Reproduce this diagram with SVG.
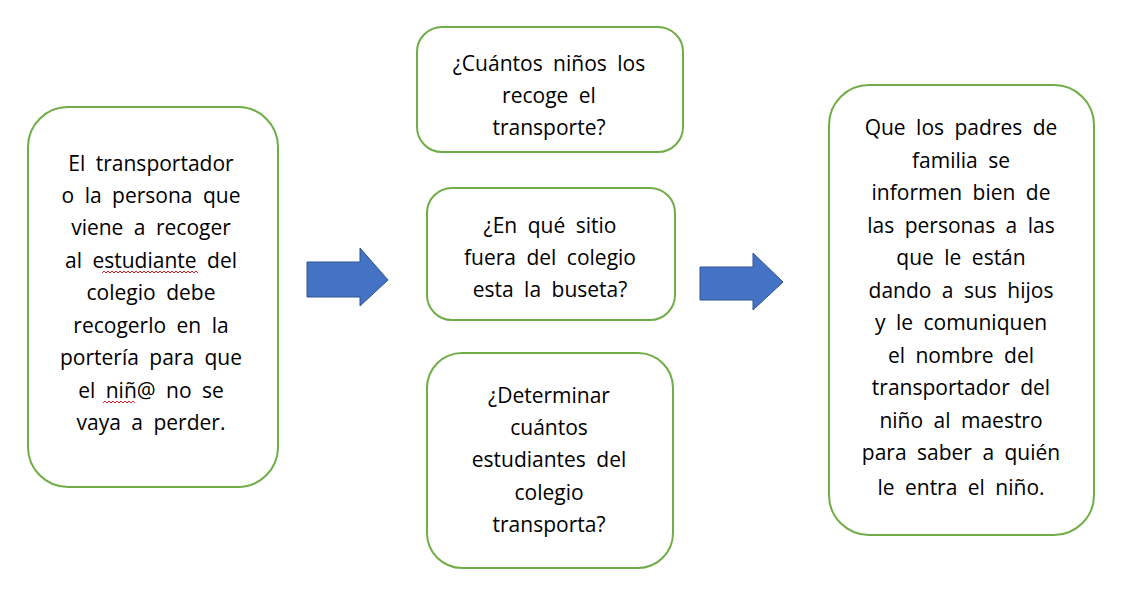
<svg xmlns="http://www.w3.org/2000/svg" width="1122" height="602" viewBox="0 0 1122 602">
<style>
.box{fill:#FFFFFF;stroke:#70AD47;stroke-width:2}
.t{font-family:"Open Sans","Liberation Sans",sans-serif;font-size:21px;fill:#000000;text-anchor:middle;word-spacing:5px}
.arrow{fill:#4472C4;stroke:#2F528F;stroke-width:1}
.squig{fill:none;stroke:#E02020;stroke-width:1}
</style>
<rect width="1122" height="602" fill="#FFFFFF"/>
<g id="connectors">
<polygon class="arrow" points="307,262 360,262 360,248 388,280 360,306 360,297 307,297"/>
<polygon class="arrow" points="700,267 753,267 753,253 783,282 753,310 753,300 700,300"/>
</g>
<g id="node-left">
<rect class="box" x="28" y="107" width="250" height="380" rx="40" ry="40"/>
<text class="t"><tspan x="151" y="171">El transportador</tspan><tspan x="151" y="203">o la persona que</tspan><tspan x="151" y="235">viene a recoger</tspan><tspan x="151" y="268">al estudiante del</tspan><tspan x="151" y="300">colegio debe</tspan><tspan x="151" y="333">recogerlo en la</tspan><tspan x="151" y="365">portería para que</tspan><tspan x="151" y="398">el niñ@ no se</tspan><tspan x="151" y="430">vaya a perder.</tspan></text>
<path class="squig" d="M102,273 l2,-2 l2,2 l2,-2 l2,2 l2,-2 l2,2 l2,-2 l2,2 l2,-2 l2,2 l2,-2 l2,2 l2,-2 l2,2 l2,-2 l2,2 l2,-2 l2,2 l2,-2 l2,2 l2,-2 l2,2 l2,-2 l2,2 l2,-2 l2,2 l2,-2 l2,2 l2,-2 l2,2 l2,-2 l2,2 l2,-2 l2,2 l2,-2 l2,2 l2,-2 l2,2 l2,-2 l2,2 l2,-2 l2,2 l2,-2 l2,2 l2,-2 l2,2 l2,-2 l2,2"/>
<path class="squig" d="M103,403 l2,-2 l2,2 l2,-2 l2,2 l2,-2 l2,2 l2,-2 l2,2 l2,-2 l2,2 l2,-2 l2,2 l2,-2 l2,2 l2,-2 l2,2"/>
</g>
<g id="node-top">
<rect class="box" x="417" y="27" width="266" height="125" rx="25" ry="25"/>
<text class="t"><tspan x="549" y="71">¿Cuántos niños los</tspan><tspan x="549" y="103">recoge el</tspan><tspan x="549" y="135">transporte?</tspan></text>
</g>
<g id="node-middle">
<rect class="box" x="427" y="188" width="248" height="132" rx="25" ry="25"/>
<text class="t"><tspan x="550" y="233">¿En qué sitio</tspan><tspan x="550" y="265">fuera del colegio</tspan><tspan x="550" y="297">esta la buseta?</tspan></text>
</g>
<g id="node-bottom">
<rect class="box" x="427" y="353" width="246" height="215" rx="35" ry="35"/>
<text class="t"><tspan x="549" y="403">¿Determinar</tspan><tspan x="549" y="435">cuántos</tspan><tspan x="549" y="467">estudiantes del</tspan><tspan x="549" y="500">colegio</tspan><tspan x="549" y="532">transporta?</tspan></text>
</g>
<g id="node-right">
<rect class="box" x="829" y="85" width="265" height="450" rx="40" ry="40"/>
<text class="t"><tspan x="961" y="135">Que los padres de</tspan><tspan x="961" y="168">familia se</tspan><tspan x="961" y="200">informen bien de</tspan><tspan x="961" y="233">las personas a las</tspan><tspan x="961" y="265">que le están</tspan><tspan x="961" y="298">dando a sus hijos</tspan><tspan x="961" y="330">y le comuniquen</tspan><tspan x="961" y="363">el nombre del</tspan><tspan x="961" y="395">transportador del</tspan><tspan x="961" y="428">niño al maestro</tspan><tspan x="961" y="460">para saber a quién</tspan><tspan x="961" y="495">le entra el niño.</tspan></text>
</g>
</svg>
